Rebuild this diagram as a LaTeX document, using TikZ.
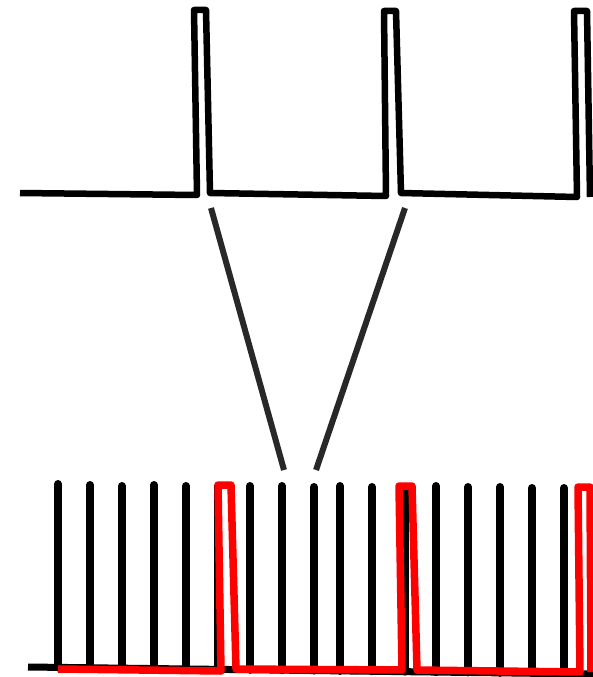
\documentclass[tikz,border=0pt]{standalone}
\begin{document}
\begin{tikzpicture}[x=1pt,y=-1pt,
  wave/.style={line width=6.5pt,line join=round,black},
  spike/.style={line width=8pt,line cap=round,black},
  redwave/.style={line width=7.5pt,line join=round,red},
  zoomline/.style={line width=6pt,draw={rgb,255:red,40;green,40;blue,40}}]
\useasboundingbox (0,0) rectangle (593,677);
% top waveform
\draw[wave] (20,193) -- (197,195) -- (194,10) -- (206,10) -- (210,193) -- (386,196) -- (384,11) -- (396,11) -- (401,193) -- (577,197) -- (574,11) -- (587,11) -- (590,197);
% zoom connectors
\coordinate (za) at (211,208);
\coordinate (zb) at (284,470);
\coordinate (zc) at (405,208);
\coordinate (zd) at (316,470);
\draw[zoomline] (za) -- (zb);
\draw[zoomline] (zc) -- (zd);
% bottom baseline
\draw[line width=7pt,black] (28,667) -- (593,674);
% spikes
\foreach \x/\t in {58/484,90/485,122/486,154/485,186/486,218/486,250/486,282/486,314/487,340/486,372/487,405/488,436/486,468/487,500/487,532/488,564/488}{
  \draw[spike] (\x,{667+(\x-28)*7/565}) -- (\x,\t);
}
% red waveform
\draw[redwave] (58,669) -- (221,671) -- (218,485) -- (231,485) -- (236,669) -- (402,670) -- (399,486) -- (412,486) -- (417,670) -- (580,672) -- (578,487) -- (590,487) -- (591,672);
\end{tikzpicture}
\end{document}
